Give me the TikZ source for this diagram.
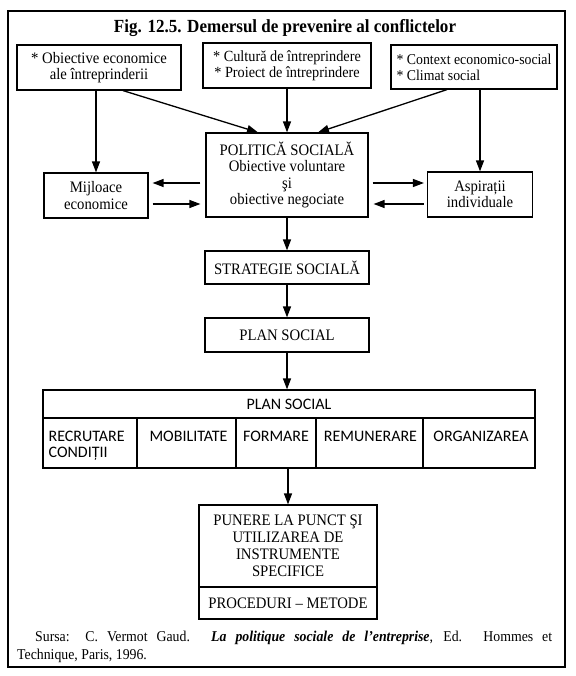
\documentclass[tikz,border=0pt]{standalone}
\usepackage{fontspec}
\setmainfont{Liberation Serif}[FakeStretch=0.92]
\newfontfamily\tabfont{Carlito}
\usetikzlibrary{arrows.meta,calc}
\begin{document}
\begin{tikzpicture}[x=1pt,y=-1pt,
  box/.style={draw, line width=1.2pt, inner sep=0pt, align=center},
  arr/.style={line width=1.3pt, -{Triangle[length=11pt,width=8pt]}},
  txt/.style={font=\fontsize{16}{16.5}\selectfont},
  tab/.style={font=\tabfont\fontsize{16}{16}\selectfont, inner sep=0pt}]
\useasboundingbox (0,0) rectangle (575,676);
\draw[line width=1.4pt] (8,11) rectangle (565,667);
\node[font=\bfseries\fontsize{18.5}{20}\selectfont, anchor=base] (title) at (285,33) {Fig. 12.5. Demersul de prevenire al conflictelor};
% top row
\node[box, txt, minimum width=164pt, minimum height=45pt] (tl) at (99,67.5) {* Obiective economice\\ale întreprinderii};
\node[box, font=\fontsize{15.5}{16}\selectfont, minimum width=168pt, minimum height=45pt] (tm) at (287,65.5) {* Cultură de întreprindere\\* Proiect de întreprindere};
\node[box, font=\fontsize{15}{16}\selectfont, align=left, minimum width=166pt, minimum height=44pt] (tr) at (474,67) {* Context economico-social\\* Climat social};
% middle
\node[box, txt, minimum width=162pt, minimum height=84pt] (pol) at (287,175) {POLITICĂ SOCIALĂ\\Obiective voluntare\\şi\\obiective negociate};
\node[box, txt, minimum width=104pt, minimum height=45pt] (mij) at (96,195.5) {Mijloace\\economice};
\node[box, txt, minimum width=105pt, minimum height=45pt] (asp) at (480,194.5) {Aspirații\\individuale};
\node[box, txt, minimum width=164pt, minimum height=33pt] (strat) at (287,267.5) {STRATEGIE SOCIALĂ};
\node[box, txt, minimum width=164pt, minimum height=34pt] (plan) at (287,335) {PLAN SOCIAL};
% table
\node[box, tab, minimum width=492pt, minimum height=28pt] (hdr) at (289,404) {PLAN SOCIAL};
\node[box, minimum width=94pt, minimum height=50pt] (c1) at (90,443) {};
\node[box, minimum width=99pt, minimum height=50pt] (c2) at (186.5,443) {};
\node[box, minimum width=80pt, minimum height=50pt] (c3) at (276,443) {};
\node[box, minimum width=107pt, minimum height=50pt] (c4) at (369.5,443) {};
\node[box, minimum width=112pt, minimum height=50pt] (c5) at (479,443) {};
\node[tab, anchor=base west] (t1a) at ($(c1.north west)+(6,24)$) {RECRUTARE};
\node[tab, anchor=base west] (t1b) at ($(c1.north west)+(6,40)$) {CONDIȚII};
\node[tab, anchor=base] (t2) at ($(c2.north)+(2,24)$) {MOBILITATE};
\node[tab, anchor=base] (t3) at ($(c3.north)+(0,24)$) {FORMARE};
\node[tab, anchor=base] (t4) at ($(c4.north)+(1,24)$) {REMUNERARE};
\node[tab, anchor=base] (t5) at ($(c5.north)+(2,24)$) {ORGANIZAREA};
% bottom
\node[box, font=\fontsize{16}{17}\selectfont, minimum width=178pt, minimum height=82pt] (pun) at (288,546) {PUNERE LA PUNCT ŞI\\UTILIZAREA DE\\INSTRUMENTE\\SPECIFICE};
\node[box, txt, minimum width=178pt, minimum height=32pt] (proc) at (288,603) {PROCEDURI -- METODE};
% source
\node[anchor=north west, text width=535pt, align=justify, inner sep=0pt, font=\fontsize{15}{17.5}\selectfont] (src) at (17,631)
 {\hspace*{18pt}Sursa: C. Vermot Gaud. \textbf{\textit{La politique sociale de l'entreprise}}, Ed. Hommes et\linebreak Technique, Paris, 1996.};
% connectors
\draw[arr] (mij.north |- tl.south) -- (mij.north);
\draw[arr] ([xshift=24pt]tl.south) -- ([xshift=-29pt]pol.north);
\draw[arr] (tm.south) -- (pol.north);
\draw[arr] ([xshift=-27pt]tr.south) -- ([xshift=31pt]pol.north);
\draw[arr] (asp.north |- tr.south) -- (asp.north);
\coordinate (pa) at ($(pol.west)+(0,8)$);
\coordinate (pb) at ($(pol.west)+(0,29)$);
\coordinate (pc) at ($(pol.east)+(0,8)$);
\coordinate (pd) at ($(pol.east)+(0,29)$);
\draw[arr, shorten <=5pt, shorten >=4pt] (pa) -- (pa -| mij.east);
\draw[arr, shorten <=4pt, shorten >=5pt] (pb -| mij.east) -- (pb);
\draw[arr, shorten <=4pt, shorten >=3pt] (pc) -- (pc -| asp.west);
\draw[arr, shorten <=3pt, shorten >=5pt] (pd -| asp.west) -- (pd);
\draw[arr] (pol.south) -- (strat.north);
\draw[arr] (strat.south) -- (plan.north);
\draw[arr] (plan.south) -- (plan.south |- hdr.north);
\draw[arr] (pun.north |- c3.south) -- (pun.north);
\end{tikzpicture}
\end{document}
